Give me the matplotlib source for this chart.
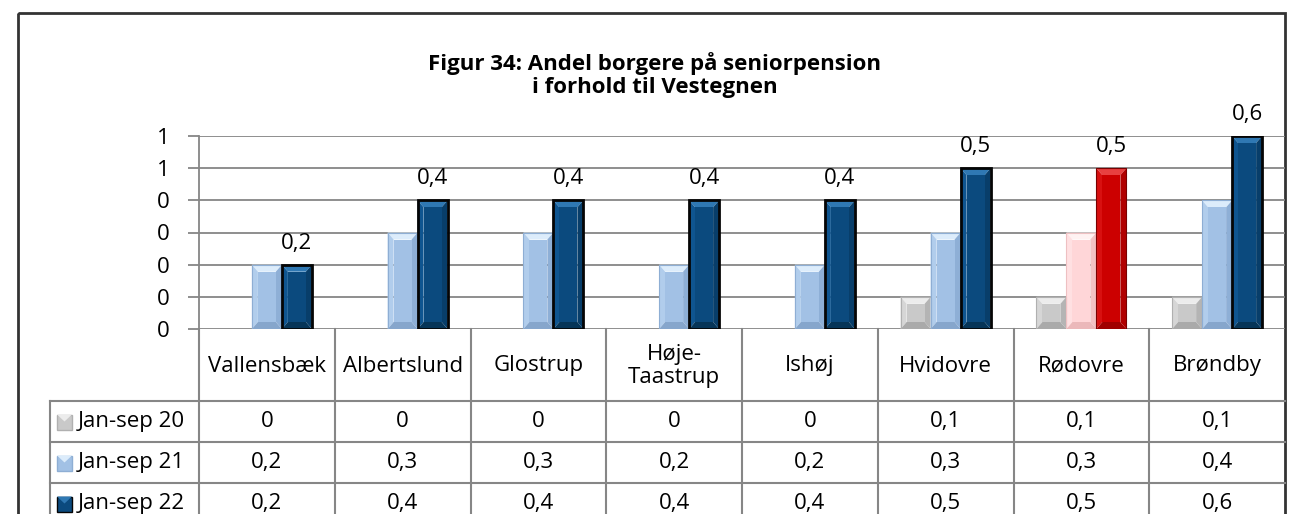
import matplotlib
matplotlib.use("Agg")
import matplotlib.pyplot as plt
from matplotlib.patches import Polygon, Rectangle
from matplotlib.lines import Line2D
from matplotlib import transforms

### data ###
kommuner = ["Vallensbæk", "Albertslund", "Glostrup", "Høje-\nTaastrup",
            "Ishøj", "Hvidovre", "Rødovre", "Brøndby"]
serier = ["Jan-sep 20", "Jan-sep 21", "Jan-sep 22"]
jan_sep_20 = [0, 0, 0, 0, 0, 0.1, 0.1, 0.1]
jan_sep_21 = [0.2, 0.3, 0.3, 0.2, 0.2, 0.3, 0.3, 0.4]
jan_sep_22 = [0.2, 0.4, 0.4, 0.4, 0.4, 0.5, 0.5, 0.6]
y_ticks = [0, 0.1, 0.2, 0.3, 0.4, 0.5, 0.6]
y_tick_labels = ["0", "0", "0", "0", "0", "1", "1"]
fremhaevet = "Rødovre"

titel = "Figur 34: Andel borgere på seniorpension\ni forhold til Vestegnen"

# face colours: (base, top, left, right, bottom, edge)
farver = {
    "grey": ("#c9c9c9", "#ececec", "#d6d6d6", "#b4b4b4", "#aaaaaa", "#b0b0b0"),
    "lightblue": ("#a2c1e5", "#dcecfb", "#b1cdec", "#8eafd6", "#86a6cc", "#8eaed4"),
    "darkblue": ("#0b4a7e", "#2f78b3", "#0f5590", "#083e6a", "#063558", "#050505"),
    "pink": ("#ffd6d8", "#fff2f2", "#ffe0e2", "#f2c2c4", "#ebb8ba", "#eec0c2"),
    "red": ("#cc0000", "#e84040", "#d81010", "#b00000", "#a00000", "#7a0000"),
}

FS = 16
plt.rcParams["font.family"] = ["Open Sans", "DejaVu Sans"]


def fmt(v):
    return "0" if v == 0 else f"{v:.1f}".replace(".", ",")


def bevel_bar(ax, x, w, h, farve, ppy, lw):
    """Draw one bar with a bevelled (Excel-like) look."""
    if h <= 0:
        return
    base, top, left, right, bottom, edge = farver[farve]
    x0, x1 = x - w / 2, x + w / 2
    dx = w * 0.2
    dy = min(7 / ppy, h / 2.2)
    inner = [(x0 + dx, dy), (x1 - dx, dy), (x1 - dx, h - dy), (x0 + dx, h - dy)]
    faces = [
        ([(x0, h), (x1, h), (x1 - dx, h - dy), (x0 + dx, h - dy)], top),
        ([(x0, 0), (x0, h), (x0 + dx, h - dy), (x0 + dx, dy)], left),
        ([(x1, 0), (x1, h), (x1 - dx, h - dy), (x1 - dx, dy)], right),
        ([(x0, 0), (x1, 0), (x1 - dx, dy), (x0 + dx, dy)], bottom),
        (inner, base),
    ]
    for pts, c in faces:
        ax.add_patch(Polygon(pts, closed=True, facecolor=c, edgecolor="none", zorder=3))
    ax.add_patch(Rectangle((x0, 0), w, h, facecolor="none", edgecolor=edge,
                           linewidth=lw, zorder=4))


def main():
    fig = plt.figure(figsize=(12.9, 5.14), dpi=100)
    W, H = 1290, 514

    # pixel overlay for frame and data table
    over = fig.add_axes([0, 0, 1, 1], zorder=0)
    over.set_xlim(0, W)
    over.set_ylim(H, 0)
    over.axis("off")

    left, right, top, bottom = 199, 1285, 136, 329
    ax = fig.add_axes([left / W, 1 - bottom / H, (right - left) / W, (bottom - top) / H],
                      zorder=1)
    ax.patch.set_visible(False)
    n = len(kommuner)
    ax.set_xlim(-0.5, n - 0.5)
    ax.set_ylim(0, 0.6)
    ax.set_yticks(y_ticks)
    ax.set_yticklabels(y_tick_labels, fontsize=FS)
    ax.tick_params(axis="y", length=8, width=1.3, color="#868686", pad=13)
    ax.tick_params(axis="x", length=0, labelbottom=False)
    for s in ["top", "right", "bottom"]:
        ax.spines[s].set_visible(False)
    ax.spines["left"].set_color("#868686")
    ax.spines["left"].set_linewidth(1.3)
    ax.grid(axis="y", color="#868686", linewidth=1.3, zorder=0)
    ax.set_axisbelow(True)

    fig.canvas.draw()
    ppy = ax.transData.transform((0, 1))[1] - ax.transData.transform((0, 0))[1]

    # bars
    w = 30 / 135.75
    for i, k in enumerate(kommuner):
        hl = k == fremhaevet
        bevel_bar(ax, i - w, w, jan_sep_20[i], "grey", ppy, 0.8)
        bevel_bar(ax, i, w, jan_sep_21[i], "pink" if hl else "lightblue", ppy, 0.8)
        bevel_bar(ax, i + w, w, jan_sep_22[i], "red" if hl else "darkblue", ppy,
                  0.8 if hl else 2.0)
        ax.annotate(fmt(jan_sep_22[i]), (i + w, jan_sep_22[i]), xytext=(0, 8),
                    textcoords="offset points", ha="center", va="bottom",
                    fontsize=FS, annotation_clip=False, zorder=5)

    # data table
    tbl = transforms.blended_transform_factory(ax.transData, over.transData)
    gc = "#868686"
    row_y = [401, 442, 483, 524]
    for y in row_y:
        over.add_line(Line2D([50, right], [y, y], color=gc, lw=1.5))
    over.add_line(Line2D([50, 50], [row_y[0], H + 20], color=gc, lw=1.5))
    over.add_line(Line2D([left, left], [bottom, H + 20], color=gc, lw=1.5))
    for i in range(1, n):
        over.add_line(Line2D([i - 0.5, i - 0.5], [bottom, H + 20], color=gc, lw=1.5,
                             transform=tbl))

    for i, k in enumerate(kommuner):
        over.text(i, (bottom + row_y[0]) / 2 + 1, k, transform=tbl, ha="center",
                  va="center", fontsize=FS, linespacing=1.15)
    rows = [jan_sep_20, jan_sep_21, jan_sep_22]
    keys = ["grey", "lightblue", "darkblue"]
    for r, (navn, vals, key) in enumerate(zip(serier, rows, keys)):
        yc = (row_y[r] + row_y[r + 1]) / 2
        base, topc, _, _, _, edge = farver[key]
        over.add_patch(Rectangle((57, yc - 7), 15, 15, facecolor=base,
                                 edgecolor=edge, lw=1.0))
        over.add_patch(Polygon([(57, yc - 7), (72, yc - 7), (64.5, yc)],
                               facecolor=topc, edgecolor="none"))
        over.text(78, yc, navn, ha="left", va="center", fontsize=FS)
        for i, v in enumerate(vals):
            over.text(i, yc, fmt(v), transform=tbl, ha="center", va="center",
                      fontsize=FS)

    # outer frame and title
    over.add_patch(Rectangle((18, 13), right - 18, H + 20, facecolor="none",
                             edgecolor="#333333", lw=2.0, clip_on=False))
    over.text(655, 75, titel, ha="center", va="center", fontsize=16,
              fontweight="bold", linespacing=1.15)

    fig.savefig("out.png", dpi=100)


if __name__ == "__main__":
    main()
